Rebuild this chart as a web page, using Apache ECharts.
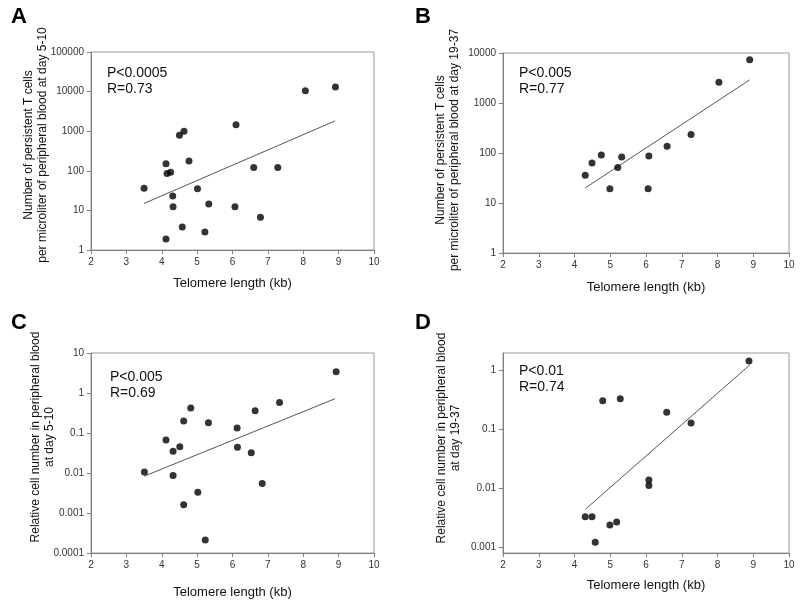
<!DOCTYPE html>
<html><head><meta charset="utf-8">
<script src="https://cdn.jsdelivr.net/npm/echarts@6/dist/echarts.min.js"></script>
<style>html,body{margin:0;padding:0;background:#fff}#c{width:800px;height:601px}</style>
</head><body><div id="c"></div>
<script>
// ---- data ----
const xTickValues = [2,3,4,5,6,7,8,9,10];

const aX = [3.5,4.12,4.15,4.25,4.5,4.63,4.77,4.31,4.32,4.58,4.12,5.01,5.33,5.22,6.1,6.07,6.6,7.28,6.79,8.06,8.91];
const aY = [36,151,85,92,790,1000,177,23,12.4,3.8,1.9,35,14.5,2.85,1450,12.4,122,122,6.7,10500,13000];
const aFitX = [3.5, 8.9];
const aFitY = [15, 1820];
const aTicks = [1,10,100,1000,10000,100000];

const bX = [4.30,4.49,4.75,4.99,5.21,5.32,6.08,6.06,6.59,7.26,8.04,8.9];
const bY = [36,63,91,19.3,51,83,87,19.3,136,235,2600,7300];
const bFitX = [4.3, 8.9];
const bFitY = [20, 2900];
const bTicks = [1,10,100,1000,10000];

const cX = [3.51,4.12,4.32,4.51,4.62,4.82,4.32,4.62,5.02,5.32,5.23,6.13,6.14,6.53,6.64,6.84,7.33,8.93];
const cY = [0.0106,0.067,0.035,0.045,0.20,0.42,0.0087,0.0016,0.0033,0.18,0.00021,0.133,0.044,0.032,0.36,0.0055,0.58,3.4];
const cFitX = [3.5, 8.9];
const cFitY = [0.0083, 0.72];
const cTicks = [0.0001,0.001,0.01,0.1,1,10];

const dX = [4.30,4.49,4.58,4.79,4.99,5.18,5.28,6.08,6.08,6.58,7.26,8.88];
const dY = [0.0033,0.0033,0.00122,0.31,0.0024,0.0027,0.335,0.0139,0.0112,0.197,0.129,1.46];
const dFitX = [4.3, 8.9];
const dFitY = [0.0044, 1.25];
const dTicks = [0.001,0.01,0.1,1];

const panels = [
  {letter:'A', x:aX, y:aY, fx:aFitX, fy:aFitY, ticks:aTicks, ymin:1, ymax:100000, stat:'P<0.0005\nR=0.73',
   ytitle:'Number of persistent T cells\nper microliter of peripheral blood at day 5-10'},
  {letter:'B', x:bX, y:bY, fx:bFitX, fy:bFitY, ticks:bTicks, ymin:1, ymax:10000, stat:'P<0.005\nR=0.77',
   ytitle:'Number of persistent T cells\nper microliter of peripheral blood at day 19-37'},
  {letter:'C', x:cX, y:cY, fx:cFitX, fy:cFitY, ticks:cTicks, ymin:0.0001, ymax:10, stat:'P<0.005\nR=0.69',
   ytitle:'Relative cell number in peripheral blood\nat day 5-10'},
  {letter:'D', x:dX, y:dY, fx:dFitX, fy:dFitY, ticks:dTicks, ymin:0.0008, ymax:2, stat:'P<0.01\nR=0.74',
   ytitle:'Relative cell number in peripheral blood\nat day 19-37'}
];

// ---- layout ----
const layout = [
  {grid:{left:91, top:52, width:283, height:198}, nameGap:27, stat:[107,65], title:[36,145], letter:[11,6]},
  {grid:{left:503, top:53, width:286, height:200}, nameGap:28, stat:[519,65], title:[448,150], letter:[415,6]},
  {grid:{left:91, top:353, width:283, height:200}, nameGap:33, stat:[110,369], title:[43,437], letter:[11,312]},
  {grid:{left:503, top:353, width:286, height:200}, nameGap:26, stat:[519,363], title:[449,438], letter:[415,312]}
];

const FONT = '"Liberation Sans", Arial, Helvetica, sans-serif';
const grids = [], xAxes = [], yAxes = [], series = [], graphics = [];

panels.forEach((p, i) => {
  const L = layout[i];
  grids.push(Object.assign({show:true, borderColor:'#9a9a9a', borderWidth:1, backgroundColor:'#fff'}, L.grid));
  xAxes.push({
    type:'value', gridIndex:i, min:2, max:10, interval:1,
    name:'Telomere length (kb)', nameLocation:'middle', nameGap:L.nameGap,
    nameTextStyle:{fontFamily:FONT, fontSize:13, color:'#111'},
    axisLine:{show:true, onZero:false, lineStyle:{color:'#808080', width:1}},
    axisTick:{show:true, length:4, lineStyle:{color:'#808080'}},
    axisLabel:{fontFamily:FONT, fontSize:10, color:'#333', margin:7},
    splitLine:{show:false}
  });
  yAxes.push({
    type:'log', logBase:10, gridIndex:i, min:p.ymin, max:p.ymax,
    axisLine:{show:true, onZero:false, lineStyle:{color:'#808080', width:1}},
    axisTick:{show:true, length:4, lineStyle:{color:'#808080'}, customValues:p.ticks},
    axisLabel:{fontFamily:FONT, fontSize:10, color:'#333', margin:7, customValues:p.ticks,
      formatter:v => String(v)},
    splitLine:{show:false}, minorTick:{show:false}
  });
  series.push({
    type:'line', xAxisIndex:i, yAxisIndex:i, data:p.fx.map((v,k)=>[v,p.fy[k]]),
    symbol:'none', silent:true, lineStyle:{color:'#555', width:1}, z:2
  });
  series.push({
    type:'scatter', xAxisIndex:i, yAxisIndex:i, data:p.x.map((v,k)=>[v,p.y[k]]),
    symbol:'circle', symbolSize:7, itemStyle:{color:'#000'}, z:3
  });
  graphics.push({type:'text', left:L.stat[0], top:L.stat[1],
    style:{text:p.stat, font:'14px '+FONT, fill:'#111', lineHeight:16}});
  graphics.push({type:'text', x:L.title[0], y:L.title[1], rotation:Math.PI/2,
    style:{text:p.ytitle, font:'12px '+FONT, fill:'#111', align:'center', verticalAlign:'middle', lineHeight:14}});
  graphics.push({type:'text', left:L.letter[0], top:L.letter[1],
    style:{text:p.letter, font:'bold 22px '+FONT, fill:'#000'}});
});

const chart = echarts.init(document.getElementById('c'), null, {renderer:'canvas'});
chart.setOption({
  animation:false, backgroundColor:'#fff',
  grid:grids, xAxis:xAxes, yAxis:yAxes, series:series, graphic:graphics
});
</script></body></html>
